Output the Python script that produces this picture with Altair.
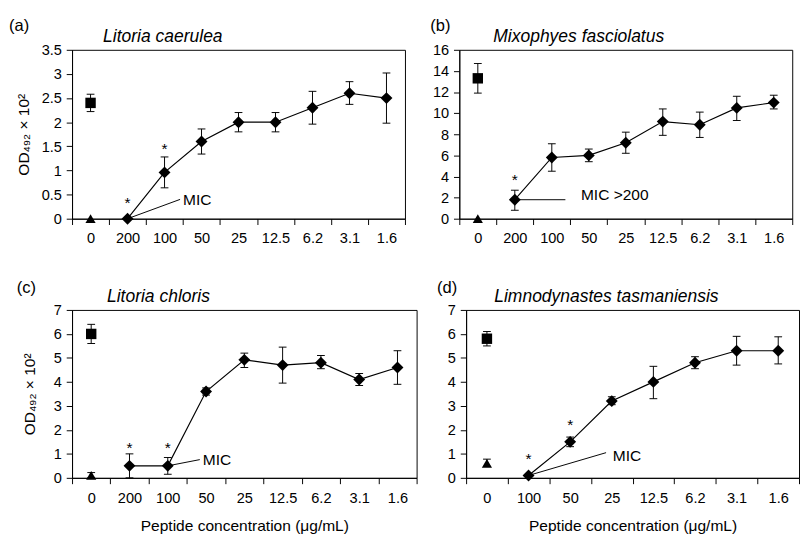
import altair as alt
import pandas as pd

FONT = "Liberation Sans"

# ---------------- data ----------------
CATS_9 = ["0", "200", "100", "50", "25", "12.5", "6.2", "3.1", "1.6"]
CATS_8 = ["0", "100", "50", "25", "12.5", "6.2", "3.1", "1.6"]

# (a) Litoria caerulea
A_TREAT = ["200", "100", "50", "25", "12.5", "6.2", "3.1", "1.6"]
A_MEAN = [0.0, 0.96, 1.6, 2.0, 2.0, 2.3, 2.6, 2.5]
A_LOW = [0.0, 0.64, 1.34, 1.8, 1.8, 1.96, 2.37, 1.98]
A_HIGH = [0.0, 1.28, 1.86, 2.2, 2.2, 2.64, 2.84, 3.02]
A_POS = [2.4, 2.22, 2.58]
A_NEG = [0.0, 0.0, 0.0]
A_STAR_CAT = ["200", "100"]
A_STAR_Y = [0.32, 1.45]
A_MIC_FROM = ["200", 0.0]
A_MIC_TO = ["100", 0.40]
A_MIC_LABEL = ["MIC", "100", 0.38]

# (b) Mixophyes fasciolatus
B_TREAT = ["200", "100", "50", "25", "12.5", "6.2", "3.1", "1.6"]
B_MEAN = [1.8, 5.8, 6.0, 7.2, 9.2, 8.9, 10.5, 11.0]
B_LOW = [0.8, 4.5, 5.4, 6.2, 7.9, 7.7, 9.3, 10.4]
B_HIGH = [2.7, 7.1, 6.6, 8.2, 10.4, 10.1, 11.6, 11.7]
B_POS = [13.3, 11.9, 14.7]
B_NEG = [0.0, 0.0, 0.0]
B_STAR_CAT = ["200"]
B_STAR_Y = [3.7]
B_MIC_FROM = ["200", 1.8]
B_MIC_TO = ["100", 1.8]
B_MIC_LABEL = ["MIC >200", "100", 2.2]

# (c) Litoria chloris
C_TREAT = ["200", "100", "50", "25", "12.5", "6.2", "3.1", "1.6"]
C_MEAN = [0.5, 0.5, 3.6, 4.92, 4.7, 4.8, 4.1, 4.6]
C_LOW = [0.0, 0.15, 3.45, 4.6, 3.95, 4.55, 3.85, 3.9]
C_HIGH = [1.0, 0.85, 3.75, 5.2, 5.45, 5.1, 4.35, 5.3]
C_POS = [6.0, 5.6, 6.4]
C_NEG = [0.1, 0.0, 0.22]
C_STAR_CAT = ["200", "100"]
C_STAR_Y = [1.25, 1.25]
C_MIC_FROM = ["100", 0.5]
C_MIC_TO = ["100", 0.76]
C_MIC_LABEL = ["MIC", "100", 0.74]

# (d) Limnodynastes tasmaniensis
D_TREAT = ["100", "50", "25", "12.5", "6.2", "3.1", "1.6"]
D_MEAN = [0.1, 1.5, 3.2, 4.0, 4.8, 5.3, 5.3]
D_LOW = [0.1, 1.3, 3.05, 3.3, 4.55, 4.7, 4.75]
D_HIGH = [0.1, 1.7, 3.38, 4.65, 5.05, 5.9, 5.88]
D_POS = [5.8, 5.5, 6.1]
D_NEG = [0.6, 0.48, 0.78]
D_STAR_CAT = ["100", "50"]
D_STAR_Y = [0.77, 2.19]
D_MIC_FROM = ["100", 0.1]
D_MIC_TO = ["50", 1.05]
D_MIC_LABEL = ["MIC", "50", 0.92]

Y_TITLE = "OD₄₉₂ × 10²"
X_TITLE = "Peptide concentration (μg/mL)"


def panel(cats, treat, mean, low, high, pos, neg, star_cat, star_y,
          mic_from, mic_to, mic_label, ymax, ystep, letter, species,
          width, height, ytitle, xtitle, line_dx, text_dx,
          title_dx, title_dy, letter_dx, letter_dy, ytitle_pad):
    rows = []
    for i, (c, m, l, h) in enumerate(zip(treat, mean, low, high)):
        rows.append(dict(cat=c, y=m, lo=l, hi=h, kind="sample", idx=i))
    rows.append(dict(cat="0", y=pos[0], lo=pos[1], hi=pos[2], kind="pos", idx=0))
    rows.append(dict(cat="0", y=neg[0], lo=neg[1], hi=neg[2], kind="neg", idx=0))
    df = pd.DataFrame(rows)

    nvals = int(round(ymax / ystep)) + 1
    yvals = [round(i * ystep, 3) for i in range(nvals)]

    def X(field="cat"):
        return alt.X(
            f"{field}:N", sort=cats,
            scale=alt.Scale(domain=cats, paddingInner=0, paddingOuter=0),
            axis=alt.Axis(title=xtitle, labelAngle=0, tickBand="extent",
                          labelPadding=7, titlePadding=13, titleFontSize=16),
        )

    def Y(field="y"):
        return alt.Y(
            f"{field}:Q",
            scale=alt.Scale(domain=[0, ymax], nice=False, zero=True),
            axis=alt.Axis(title=ytitle, values=yvals, format="~g",
                          labelPadding=5, titlePadding=ytitle_pad),
        )

    base = alt.Chart(df)
    err = base.transform_filter("datum.hi > datum.lo").mark_rule(
        color="black", strokeWidth=1).encode(x=X(), y=Y("lo"), y2="hi:Q")
    cap_lo = base.transform_filter("datum.hi > datum.lo").mark_tick(
        color="black", size=8, thickness=1, opacity=1).encode(x=X(), y=Y("lo"))
    cap_hi = base.transform_filter("datum.hi > datum.lo").mark_tick(
        color="black", size=8, thickness=1, opacity=1).encode(x=X(), y=Y("hi"))
    line = base.transform_filter("datum.kind == 'sample'").mark_line(
        color="black", strokeWidth=1.2).encode(x=X(), y=Y(), order="idx:Q")
    diamonds = base.transform_filter("datum.kind == 'sample'").mark_point(
        shape="diamond", filled=True, size=150, color="black", opacity=1
    ).encode(x=X(), y=Y())
    square = base.transform_filter("datum.kind == 'pos'").mark_point(
        shape="square", filled=True, size=115, color="black", opacity=1
    ).encode(x=X(), y=Y())
    tri = base.transform_filter("datum.kind == 'neg'").mark_point(
        shape="triangle-up", filled=True, size=110, color="black", opacity=1
    ).encode(x=X(), y=Y())

    stars_df = pd.DataFrame({"cat": star_cat, "y": star_y, "t": ["*"] * len(star_cat)})
    stars = alt.Chart(stars_df).mark_text(
        font=FONT, fontSize=16, color="black", baseline="middle"
    ).encode(x=X(), y=Y(), text="t:N")

    mic_df = pd.DataFrame({"cat": [mic_from[0]], "y": [mic_from[1]],
                           "cat2": [mic_to[0]], "y2": [mic_to[1]]})
    mic_line = alt.Chart(mic_df).mark_rule(
        color="black", strokeWidth=1, x2Offset=line_dx
    ).encode(x=X(), y=Y(), x2="cat2:N", y2="y2:Q")

    lab_df = pd.DataFrame({"cat": [mic_label[1]], "y": [mic_label[2]], "t": [mic_label[0]]})
    mic_text = alt.Chart(lab_df).mark_text(
        font=FONT, fontSize=16, color="black", align="left",
        baseline="middle", dx=text_dx
    ).encode(x=X(), y=Y(), text="t:N")

    let_df = pd.DataFrame({"t": [letter]})
    let_text = alt.Chart(let_df).mark_text(
        font=FONT, fontSize=17, color="black", align="left", baseline="middle"
    ).encode(x=alt.value(letter_dx), y=alt.value(letter_dy), text="t:N")

    sp_df = pd.DataFrame({"t": [species]})
    sp_text = alt.Chart(sp_df).mark_text(
        font=FONT, fontSize=18, fontStyle="italic", color="black",
        align="left", baseline="middle"
    ).encode(x=alt.value(title_dx), y=alt.value(title_dy), text="t:N")

    return alt.layer(
        err, cap_lo, cap_hi, line, diamonds, square, tri,
        stars, mic_line, mic_text, let_text, sp_text
    ).properties(width=width, height=height)


pa = panel(CATS_9, A_TREAT, A_MEAN, A_LOW, A_HIGH, A_POS, A_NEG, A_STAR_CAT, A_STAR_Y,
           A_MIC_FROM, A_MIC_TO, A_MIC_LABEL, 3.5, 0.5, "(a)", "Litoria caerulea",
           343, 174, Y_TITLE, None, 16, 19, 32, -13, -65, -24, 10)
pb = panel(CATS_9, B_TREAT, B_MEAN, B_LOW, B_HIGH, B_POS, B_NEG, B_STAR_CAT, B_STAR_Y,
           B_MIC_FROM, B_MIC_TO, B_MIC_LABEL, 16, 2, "(b)", "Mixophyes fasciolatus",
           343, 174, None, None, 14, 30, 35, -13, -30, -24, 10)
pc = panel(CATS_9, C_TREAT, C_MEAN, C_LOW, C_HIGH, C_POS, C_NEG, C_STAR_CAT, C_STAR_Y,
           C_MIC_FROM, C_MIC_TO, C_MIC_LABEL, 7, 1, "(c)", "Litoria chloris",
           355, 173, Y_TITLE, X_TITLE, 33, 36, 36, -13, -57, -22, 16)
pd_ = panel(CATS_8, D_TREAT, D_MEAN, D_LOW, D_HIGH, D_POS, D_NEG, D_STAR_CAT, D_STAR_Y,
            D_MIC_FROM, D_MIC_TO, D_MIC_LABEL, 7, 1, "(d)", "Limnodynastes tasmaniensis",
            343, 173, None, X_TITLE, 37, 44, 29, -13, -30, -22, 10)

top = alt.hconcat(pa, pb, spacing=24)
bottom = alt.hconcat(pc, pd_, spacing=19)

chart = alt.vconcat(top, bottom, spacing=33).properties(
    padding={"left": 0, "top": 1, "right": 0, "bottom": 0},
    background="white",
).configure_view(
    stroke="black", strokeWidth=1
).configure_axis(
    labelFont=FONT, titleFont=FONT, labelFontSize=15, titleFontSize=16,
    titleFontWeight="normal", labelColor="black", titleColor="black",
    domainColor="black", tickColor="black", tickSize=6, grid=False,
    domainWidth=1, tickWidth=1,
)

chart.save("out.html", embed_options={"renderer": "svg", "actions": False})
